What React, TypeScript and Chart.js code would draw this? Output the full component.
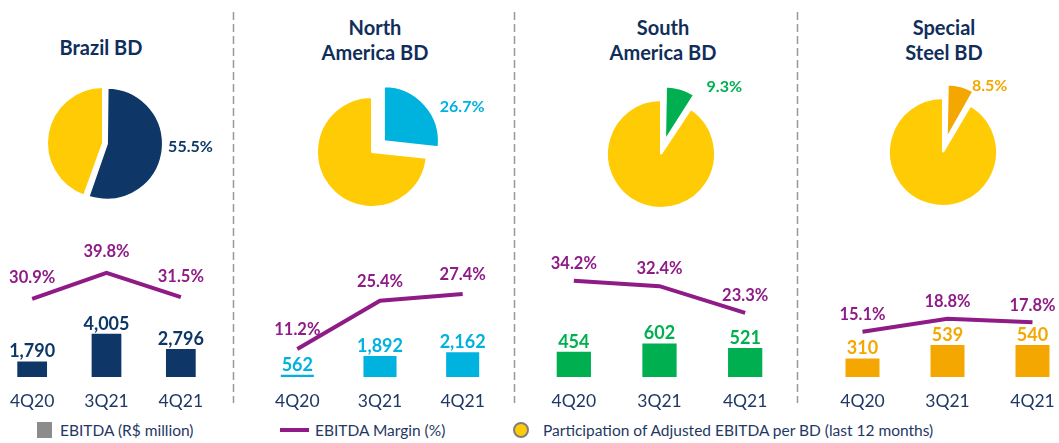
import React, { useEffect, useRef } from "react";
import { Chart, registerables } from "chart.js";

Chart.register(...registerables);

// ---------- data ----------
const quarters = ["4Q20", "3Q21", "4Q21"];

const brazilEbitda = [1790, 4005, 2796];
const northAmericaEbitda = [562, 1892, 2162];
const southAmericaEbitda = [454, 602, 521];
const specialSteelEbitda = [310, 539, 540];

const brazilMargin = [30.9, 39.8, 31.5];
const northAmericaMargin = [11.2, 25.4, 27.4];
const southAmericaMargin = [34.2, 32.4, 23.3];
const specialSteelMargin = [15.1, 18.8, 17.8];

const bdShare = [55.5, 26.7, 9.3, 8.5];
const otherBdShare = [44.5, 73.3, 90.7, 91.5];

const panelTitles = [["Brazil BD"], ["North", "America BD"], ["South", "America BD"], ["Special", "Steel BD"]];

const legendLabels = [
  "EBITDA (R$ million)",
  "EBITDA Margin (%)",
  "Participation of Adjusted EBITDA per BD (last 12 months)",
];

// ---------- styles ----------
const FONT = "Lato, 'Open Sans', sans-serif";
const NAVY = "#0E3767";
const CYAN = "#00B2DE";
const GREEN = "#00B050";
const ORANGE = "#F4A700";
const YELLOW = "#FFCB05";
const PURPLE = "#8E1B86";
const TITLE = "#112E5B";
const AXIS_TEXT = "#1F3864";

const panels = [
  {
    idx: 0, color: NAVY, ebitda: brazilEbitda, margin: brazilMargin, titleX: 101, titleTop: 35,
    pie: { cx: 103, cy: 143, r: 56, shift: 4, dx: 6, dy: -6 },
    combo: { left: -5, width: 223, yMin: 550, yMax: 12310, y2Min: 4.2, y2Max: 54.5, lineGap: 21 },
  },
  {
    idx: 1, color: CYAN, ebitda: northAmericaEbitda, margin: northAmericaMargin, titleX: 375, titleTop: 15,
    pie: { cx: 372, cy: 152, r: 55, shift: 16, dx: 15, dy: 2 },
    combo: { left: 256, width: 248, yMin: 400, yMax: 10847, y2Min: 3.0, y2Max: 46.2, lineGap: 19 },
  },
  {
    idx: 2, color: GREEN, ebitda: southAmericaEbitda, margin: southAmericaMargin, titleX: 663, titleTop: 15,
    pie: { cx: 661, cy: 154, r: 54, shift: 14, dx: 26, dy: -2 },
    combo: { left: 531, width: 257, yMin: 0, yMax: 2649, y2Min: 1.5, y2Max: 51.5, lineGap: 17 },
  },
  {
    idx: 3, color: ORANGE, ebitda: specialSteelEbitda, margin: specialSteelMargin, titleX: 944, titleTop: 15,
    pie: { cx: 943, cy: 152, r: 54, shift: 14, dx: 11, dy: -1 },
    combo: { left: 820, width: 255, yMin: 0, yMax: 2475, y2Min: 2.2, y2Max: 44.1, lineGap: 17 },
  },
];

const PIE_W = 270;
const PIE_H = 170;
const COMBO_TOP = 230;
const COMBO_H = 187;
const X_AXIS_H = 40;

const fmtThousands = (v: number) => String(v).replace(/\B(?=(\d{3})+(?!\d))/g, ",");

// ---------- plugins ----------
const pieLabelPlugin = {
  id: "pieLabel",
  beforeDatasetsDraw(chart: any, _a: any, opts: any) {
    const arc: any = chart.getDatasetMeta(0).data[0];
    if (!arc) return;
    const fix = 1 - Math.sin(Math.min(Math.PI, arc.circumference));
    arc.outerRadius = opts.radius - opts.shift * fix;
  },
  afterDatasetsDraw(chart: any, _a: any, opts: any) {
    const arc: any = chart.getDatasetMeta(0).data[0];
    if (!arc) return;
    const ctx = chart.ctx;
    const mid = (arc.startAngle + arc.endAngle) / 2;
    const R = opts.radius + opts.shift;
    const ax = arc.x + Math.cos(mid) * R;
    const ay = arc.y + Math.sin(mid) * R;
    const v = chart.data.datasets[0].data[0];
    ctx.save();
    ctx.font = `bold 16px ${FONT}`;
    ctx.fillStyle = opts.color;
    ctx.textAlign = "left";
    ctx.textBaseline = "middle";
    ctx.fillText(v.toFixed(1) + "%", ax + opts.dx, ay + opts.dy);
    ctx.restore();
  },
};

const comboLabelPlugin = {
  id: "comboLabels",
  afterDatasetsDraw(chart: any, _a: any, opts: any) {
    const ctx = chart.ctx;
    ctx.save();
    ctx.textAlign = "center";
    ctx.textBaseline = "middle";
    chart.data.datasets.forEach((ds: any, i: number) => {
      const meta = chart.getDatasetMeta(i);
      const isBar = meta.type === "bar";
      ctx.font = `bold ${isBar ? 18 : 16.5}px ${FONT}`;
      ctx.fillStyle = isBar ? ds.backgroundColor : PURPLE;
      meta.data.forEach((el: any, j: number) => {
        const v = ds.data[j];
        const text = isBar ? fmtThousands(v) : v.toFixed(1) + "%";
        const y = isBar ? el.y - opts.barGap : el.y - opts.lineGap;
        ctx.fillText(text, el.x, y);
      });
    });
    ctx.restore();
  },
};

// ---------- components ----------
function PiePanel({ p }: { p: any }) {
  const ref = useRef<HTMLCanvasElement>(null);
  useEffect(() => {
    const chart = new Chart(ref.current as HTMLCanvasElement, {
      type: "pie",
      data: {
        labels: ["BD", "Others"],
        datasets: [
          {
            data: [bdShare[p.idx], otherBdShare[p.idx]],
            backgroundColor: [p.color, YELLOW],
            borderColor: "#ffffff",
            borderWidth: 2,
            offset: [p.pie.shift * 4, 0],
          },
        ],
      },
      options: {
        responsive: false,
        animation: false,
        radius: p.pie.r,
        layout: { padding: 0 },
        events: [],
        plugins: {
          legend: { display: false },
          tooltip: { enabled: false },
          pieLabel: { radius: p.pie.r, shift: p.pie.shift, dx: p.pie.dx, dy: p.pie.dy, color: p.color },
        },
      } as any,
      plugins: [pieLabelPlugin],
    });
    return () => chart.destroy();
  }, []);
  return (
    <canvas
      ref={ref}
      width={PIE_W}
      height={PIE_H}
      style={{ position: "absolute", left: p.pie.cx - PIE_W / 2, top: p.pie.cy - PIE_H / 2 }}
    />
  );
}

function ComboPanel({ p }: { p: any }) {
  const ref = useRef<HTMLCanvasElement>(null);
  useEffect(() => {
    const chart = new Chart(ref.current as HTMLCanvasElement, {
      type: "bar",
      data: {
        labels: quarters,
        datasets: [
          {
            type: "line",
            label: "EBITDA Margin (%)",
            data: p.margin,
            yAxisID: "y2",
            borderColor: PURPLE,
            borderWidth: 4,
            pointRadius: 0,
            tension: 0,
            order: 0,
          } as any,
          {
            type: "bar",
            label: "EBITDA (R$ million)",
            data: p.ebitda,
            yAxisID: "y",
            backgroundColor: p.color,
            barPercentage: 0.4,
            categoryPercentage: 1,
            order: 1,
          },
        ],
      },
      options: {
        responsive: false,
        animation: false,
        events: [],
        layout: { padding: 0 },
        scales: {
          x: {
            grid: { display: false, drawTicks: false },
            border: { display: false },
            ticks: { color: AXIS_TEXT, font: { family: FONT, size: 17.5 }, padding: 14 },
            afterFit: (axis: any) => {
              axis.height = X_AXIS_H;
            },
          },
          y: { display: false, min: p.combo.yMin, max: p.combo.yMax },
          y2: { display: false, min: p.combo.y2Min, max: p.combo.y2Max },
        },
        plugins: {
          legend: { display: false },
          tooltip: { enabled: false },
          comboLabels: { barGap: 10, lineGap: p.combo.lineGap },
        },
      } as any,
      plugins: [comboLabelPlugin],
    });
    return () => chart.destroy();
  }, []);
  return (
    <canvas
      ref={ref}
      width={p.combo.width}
      height={COMBO_H}
      style={{ position: "absolute", left: p.combo.left, top: COMBO_TOP }}
    />
  );
}

export default function App() {
  const sepXs = [233.5, 514.5, 797.5];
  const legendText = {
    position: "absolute" as const,
    top: 420,
    lineHeight: "20px",
    fontSize: 15.5,
    color: AXIS_TEXT,
    whiteSpace: "nowrap" as const,
  };
  return (
    <div
      style={{
        position: "fixed",
        left: 0,
        top: 0,
        width: 1059,
        height: 443,
        background: "#ffffff",
        overflow: "hidden",
        fontFamily: FONT,
      }}
    >
      <svg width={1059} height={443} style={{ position: "absolute", left: 0, top: 0 }}>
        {sepXs.map((x) => (
          <line key={x} x1={x} x2={x} y1={12} y2={403} stroke="#999999" strokeWidth={1.5} strokeDasharray="8 4" />
        ))}
      </svg>
      {panels.map((p) => (
        <div
          key={"t" + p.idx}
          style={{
            position: "absolute",
            left: p.titleX - 110,
            width: 220,
            top: p.titleTop,
            textAlign: "center",
            fontWeight: 700,
            fontSize: 20,
            lineHeight: "25px",
            color: TITLE,
          }}
        >
          {panelTitles[p.idx].map((line) => (
            <div key={line}>{line}</div>
          ))}
        </div>
      ))}
      {panels.map((p) => (
        <PiePanel key={"pie" + p.idx} p={p} />
      ))}
      {panels.map((p) => (
        <ComboPanel key={"combo" + p.idx} p={p} />
      ))}
      {/* legend */}
      <div style={{ position: "absolute", left: 37, top: 422, width: 15, height: 16, background: "#8C8C8C" }} />
      <div style={{ ...legendText, left: 60 }}>{legendLabels[0]}</div>
      <div style={{ position: "absolute", left: 280, top: 428, width: 29, height: 4, background: PURPLE }} />
      <div style={{ ...legendText, left: 315 }}>{legendLabels[1]}</div>
      <div
        style={{
          position: "absolute",
          left: 513,
          top: 422,
          width: 12,
          height: 12,
          borderRadius: "50%",
          background: YELLOW,
          border: "2px solid #7F7F7F",
        }}
      />
      <div style={{ ...legendText, left: 543 }}>{legendLabels[2]}</div>
    </div>
  );
}
